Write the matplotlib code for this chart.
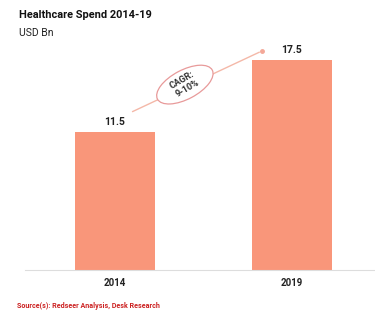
import matplotlib
matplotlib.use("Agg")
import matplotlib.pyplot as plt
from matplotlib.patches import Ellipse
from matplotlib.transforms import ScaledTranslation

years = ["2014", "2019"]
spend = [11.5, 17.5]
value_labels = ["11.5", "17.5"]
title = "Healthcare Spend 2014-19"
unit = "USD Bn"
cagr_text = "CAGR:\n9-10%"
source = "Source(s): Redseer Analysis, Desk Research"

plt.rcParams['font.family'] = ['Roboto', 'DejaVu Sans']

fig = plt.figure(figsize=(3.75, 3.25), dpi=100)
ax = fig.add_axes([25/375, 1 - 270/325, 350/375, 240/325])

x = list(range(len(years)))
bar_color = "#F9967A"
ax.bar(x, spend, width=0.45, color=bar_color, zorder=2)
ax.set_ylim(0, 20)
ax.set_xlim(-0.508, 1.469)

for xi, v, lab in zip(x, spend, value_labels):
    ax.text(xi, v + 0.45, lab, ha="center", va="bottom", fontsize=7.5,
            fontweight="bold", color="#222222")

# CAGR arrow line from above first bar to above second bar
x0, y0 = 0.085, 13.1
x1, y1 = 0.83, 18.25
ax.annotate("", xy=(x1, y1), xytext=(x0, y0),
            arrowprops=dict(arrowstyle="-", color="#F4B8A8", lw=1.0), zorder=3)
ax.plot([x1], [y1], marker="o", ms=2.5, color="#F4A898", zorder=3)
ex, ey = 0.395, 15.45
ell_tr = fig.dpi_scale_trans + ScaledTranslation(ex, ey, ax.transData)
ax.add_patch(Ellipse((0, 0), width=0.62, height=0.29, angle=28,
                     transform=ell_tr, facecolor="white",
                     edgecolor="#E89A9A", lw=0.9, zorder=4))
ax.text(ex, ey, cagr_text, ha="center", va="center", fontsize=6.6,
        fontweight="bold", rotation=30, color="#333333", zorder=5,
        linespacing=1.1)

ax.set_xticks(x)
ax.set_xticklabels(years, fontsize=7, fontweight="bold", color="#222222")
ax.tick_params(axis="x", length=0, pad=6)
ax.set_yticks([])
for s in ["top", "right", "left"]:
    ax.spines[s].set_visible(False)
ax.spines["bottom"].set_color("#DDDDDD")
ax.spines["bottom"].set_linewidth(0.8)

fig.text(19/375, 1 - 15/325, title, fontsize=7.9, fontweight="bold",
         color="#111111", va="center", ha="left")
fig.text(19/375, 1 - 33/325, unit, fontsize=7.5, color="#222222",
         va="center", ha="left")
fig.text(17/375, 1 - 306/325, source, fontsize=5.1, fontweight="bold",
         color="#CC2222", va="center", ha="left")

fig.savefig("out.png", dpi=100)
